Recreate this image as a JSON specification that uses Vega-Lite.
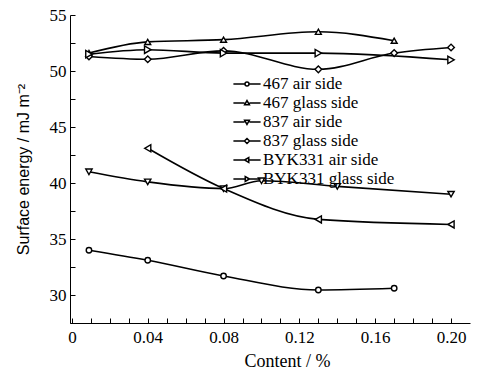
{
  "$schema": "https://vega.github.io/schema/vega-lite/v6.json",
  "width": 400,
  "height": 308,
  "autosize": {"type": "none"},
  "padding": {"left": 70, "top": 15, "right": 11, "bottom": 48},
  "background": "white",
  "config": {
    "view": {"stroke": null},
    "axis": {
      "domainColor": "black",
      "domainWidth": 1,
      "tickColor": "black",
      "tickWidth": 1,
      "grid": false,
      "labelColor": "black",
      "labelFont": "Liberation Serif",
      "labelFontSize": 17,
      "titleColor": "black",
      "titleFontWeight": "normal"
    }
  },
  "data": {
    "values": [
      {"series": "467 air side", "x": 0.009, "y": 34.0},
      {"series": "467 air side", "x": 0.04, "y": 33.1},
      {"series": "467 air side", "x": 0.08, "y": 31.7},
      {"series": "467 air side", "x": 0.13, "y": 30.45},
      {"series": "467 air side", "x": 0.17, "y": 30.6},
      {"series": "467 glass side", "x": 0.009, "y": 51.6},
      {"series": "467 glass side", "x": 0.04, "y": 52.6},
      {"series": "467 glass side", "x": 0.08, "y": 52.8},
      {"series": "467 glass side", "x": 0.13, "y": 53.5},
      {"series": "467 glass side", "x": 0.17, "y": 52.7},
      {"series": "837 air side", "x": 0.009, "y": 41.0},
      {"series": "837 air side", "x": 0.04, "y": 40.1},
      {"series": "837 air side", "x": 0.08, "y": 39.5},
      {"series": "837 air side", "x": 0.10, "y": 40.2},
      {"series": "837 air side", "x": 0.14, "y": 39.7},
      {"series": "837 air side", "x": 0.20, "y": 39.0},
      {"series": "837 glass side", "x": 0.009, "y": 51.3},
      {"series": "837 glass side", "x": 0.04, "y": 51.05},
      {"series": "837 glass side", "x": 0.08, "y": 51.8},
      {"series": "837 glass side", "x": 0.13, "y": 50.15},
      {"series": "837 glass side", "x": 0.17, "y": 51.6},
      {"series": "837 glass side", "x": 0.20, "y": 52.1},
      {"series": "BYK331 air side", "x": 0.04, "y": 43.1},
      {"series": "BYK331 air side", "x": 0.08, "y": 39.5},
      {"series": "BYK331 air side", "x": 0.13, "y": 36.75},
      {"series": "BYK331 air side", "x": 0.20, "y": 36.3},
      {"series": "BYK331 glass side", "x": 0.009, "y": 51.5},
      {"series": "BYK331 glass side", "x": 0.04, "y": 51.9},
      {"series": "BYK331 glass side", "x": 0.08, "y": 51.6},
      {"series": "BYK331 glass side", "x": 0.13, "y": 51.6},
      {"series": "BYK331 glass side", "x": 0.20, "y": 51.0}
    ]
  },
  "encoding": {
    "x": {
      "field": "x",
      "type": "quantitative",
      "scale": {"domain": [-0.001, 0.21], "nice": false, "zero": false},
      "axis": {
        "title": "Content / %",
        "titleFont": "Liberation Serif",
        "titleFontSize": 18,
        "titlePadding": 7,
        "titleX": 217,
        "values": [0, 0.01, 0.02, 0.03, 0.04, 0.05, 0.06, 0.07, 0.08, 0.09, 0.1, 0.11, 0.12, 0.13, 0.14, 0.15, 0.16, 0.17, 0.18, 0.19, 0.2],
        "labelExpr": "round(datum.value*100) % 4 == 0 ? (datum.value == 0 ? '0' : format(datum.value, '.2f')) : ''",
        "tickSize": -5,
        "labelPadding": 11
      }
    },
    "y": {
      "field": "y",
      "type": "quantitative",
      "scale": {"domain": [27.5, 55], "nice": false, "zero": false},
      "axis": {
        "title": "Surface energy / mJ m⁻²",
        "titleFont": "Liberation Sans",
        "titleFontSize": 16,
        "titlePadding": 18,
        "values": [27.5, 30, 32.5, 35, 37.5, 40, 42.5, 45, 47.5, 50, 52.5, 55],
        "labelExpr": "datum.value % 5 == 0 ? datum.label : ''",
        "tickSize": -5,
        "labelPadding": 9
      }
    }
  },
  "layer": [
    {
      "mark": {"type": "line", "interpolate": "monotone", "color": "black", "strokeWidth": 1.6},
      "encoding": {"detail": {"field": "series"}}
    },
    {
      "mark": {"type": "point", "filled": false, "fill": "white", "fillOpacity": 1, "stroke": "black", "strokeWidth": 1.4, "opacity": 1},
      "encoding": {
        "shape": {
          "field": "series",
          "type": "nominal",
          "scale": {
            "domain": ["467 air side", "467 glass side", "837 air side", "837 glass side", "BYK331 air side", "BYK331 glass side"],
            "range": ["circle", "triangle-up", "triangle-down", "diamond", "triangle-left", "triangle-right"]
          },
          "legend": null
        },
        "size": {
          "field": "series",
          "type": "nominal",
          "scale": {
            "domain": ["467 air side", "467 glass side", "837 air side", "837 glass side", "BYK331 air side", "BYK331 glass side"],
            "range": [30, 55, 55, 60, 55, 55]
          },
          "legend": null
        }
      }
    },
    {
      "mark": {"type": "point", "filled": false, "fill": "white", "stroke": "black", "strokeWidth": 1.4, "size": 0, "opacity": 1},
      "encoding": {
        "shape": {
          "field": "series",
          "type": "nominal",
          "scale": {
            "domain": ["467 air side", "467 glass side", "837 air side", "837 glass side", "BYK331 air side", "BYK331 glass side"],
            "range": [
              "M-1.7,0H-0.25M0.25,0H1.7M-0.25,0A0.25,0.25,0,1,0,0.25,0A0.25,0.25,0,1,0,-0.25,0",
              "M-1.7,0H-0.3M0.3,0H1.7M0,-0.3L0.3,0.22L-0.3,0.22Z",
              "M-1.7,0H-0.3M0.3,0H1.7M0,0.3L0.3,-0.22L-0.3,-0.22Z",
              "M-1.7,0H-0.32M0.32,0H1.7M0,-0.32L0.32,0L0,0.32L-0.32,0Z",
              "M-1.7,0H-0.3M0.22,0H1.7M-0.3,0L0.22,-0.3L0.22,0.3Z",
              "M-1.7,0H-0.22M0.3,0H1.7M0.3,0L-0.22,-0.3L-0.22,0.3Z"
            ]
          },
          "legend": {
            "title": null,
            "orient": "none",
            "legendX": 168,
            "legendY": 60,
            "symbolSize": 256,
            "labelFont": "Liberation Serif",
            "labelFontSize": 17,
            "labelColor": "black",
            "labelOffset": 7,
            "rowPadding": 2,
            "padding": 0,
            "labelLimit": 300
          }
        }
      }
    }
  ],
  "resolve": {"scale": {"shape": "independent"}, "legend": {"shape": "independent"}}
}
